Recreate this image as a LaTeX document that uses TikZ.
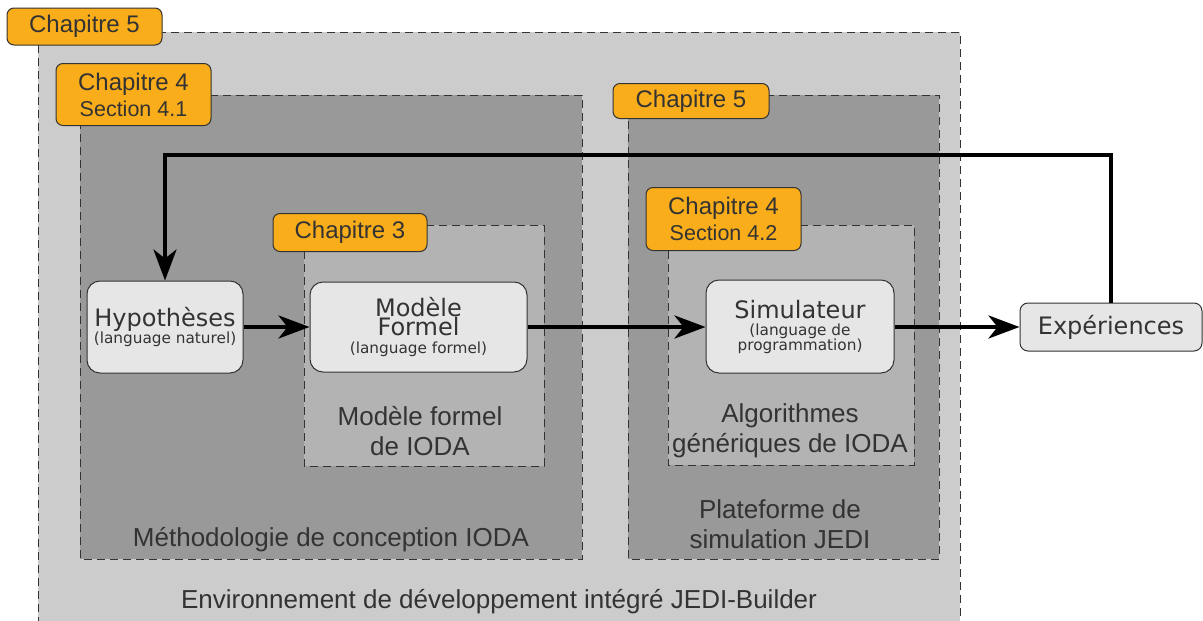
\documentclass[tikz,border=0pt]{standalone}
\usepackage{fontspec}
\setmainfont{Liberation Sans}
\newfontfamily\boxfont{DejaVu Sans}
\usetikzlibrary{arrows.meta}
\definecolor{chapitre}{RGB}{249,173,26}
\definecolor{encre}{RGB}{51,51,51}
\definecolor{zoneclaire}{RGB}{204,204,204}
\definecolor{zonefoncee}{RGB}{153,153,153}
\definecolor{zonemoyenne}{RGB}{179,179,179}
\definecolor{boite}{RGB}{230,230,230}
\tikzset{
  zone/.style={draw=encre,line width=1pt,dash pattern=on 8pt off 5pt},
  tag/.style={draw=encre,fill=chapitre,rounded corners=7pt,line width=1pt,
    text=encre,align=center,inner sep=0pt,font=\fontsize{24}{26}\selectfont},
  bloc/.style={draw=encre,fill=boite,rounded corners=13pt,line width=1pt,
    text=encre,align=center,inner sep=0pt,font=\boxfont\fontsize{24}{20}\selectfont},
  legende/.style={text=encre,align=center,inner sep=0pt,font=\fontsize{26}{30}\selectfont},
  flux/.style={line width=4pt,-{Stealth[length=31pt,width=23pt,inset=9pt]}},
}
\newcommand{\petit}[1]{{\fontsize{15.3}{14}\selectfont #1}}
\begin{document}
\begin{tikzpicture}[x=1pt,y=-1pt]
  \useasboundingbox (0,0) rectangle (1203,621);
  % zones
  \path[zone,fill=zoneclaire] (38,32) rectangle (960,630);
  \path[zone,fill=zonefoncee] (80,95) rectangle (582,559);
  \path[zone,fill=zonefoncee] (628,95) rectangle (939,559);
  \path[zone,fill=zonemoyenne] (304,225) rectangle (544,466);
  \path[zone,fill=zonemoyenne] (668,225) rectangle (914,465);

  % chapitres
  \node[tag,minimum width=155pt,minimum height=37pt] (ch5) at (84.5,26.5) {Chapitre 5};
  \node[tag,minimum width=155pt,minimum height=62pt] (ch41) at (133.5,94.5) {Chapitre 4\\{\fontsize{21.5}{20}\selectfont Section 4.1}};
  \node[tag,minimum width=154pt,minimum height=38pt] (ch3) at (350,232.5) {Chapitre 3};
  \node[tag,minimum width=156pt,minimum height=35pt] (ch5b) at (691,101) {Chapitre 5};
  \node[tag,minimum width=155pt,minimum height=63pt] (ch42) at (723.5,219) {Chapitre 4\\{\fontsize{21.5}{20}\selectfont Section 4.2}};

  % legendes
  \node[legende] (lmf) at (420,431) {Modèle formel\\de IODA};
  \node[legende] (lalgo) at (790,431) {Algorithmes\\génériques de IODA};
  \node[legende] (lmeth) at (331,540) {Méthodologie de conception IODA};
  \node[legende] (lplat) at (780,524) {Plateforme de\\simulation JEDI};
  \node[legende] (lenv) at (499,602) {Environnement de développement intégré JEDI-Builder};

  % blocs
  \node[bloc,minimum width=156pt,minimum height=92pt] (hyp) at (165,327) {\raisebox{-3pt}{Hypothèses}\\[-3pt]\raisebox{-3pt}{\petit{(language naturel)}}};
  \node[bloc,minimum width=217pt,minimum height=90pt] (modele) at (418.5,327) {\raisebox{-3pt}{Modèle}\\Formel\\[-2pt]\petit{(language formel)}};
  \node[bloc,minimum width=188pt,minimum height=93pt] (simu) at (800,326.5) {\raisebox{-2pt}{Simulateur}\\[-2pt]\raisebox{-1pt}{\petit{(language de}}\\[-5pt]\raisebox{-1pt}{\petit{programmation)}}};
  \node[bloc,rounded corners=8pt,minimum width=182pt,minimum height=48pt] (exp) at (1111,327) {Expériences};

  % fleches
  \coordinate (haut) at (0,155);
  \draw[flux] (hyp.east |- exp) -- (modele.west |- exp);
  \draw[flux] (modele.east |- exp) -- (simu.west |- exp);
  \draw[flux] (simu.east |- exp) -- (exp);
  \draw[flux] (exp.north) -- (exp.north |- haut) -| (hyp.north);
\end{tikzpicture}
\end{document}
